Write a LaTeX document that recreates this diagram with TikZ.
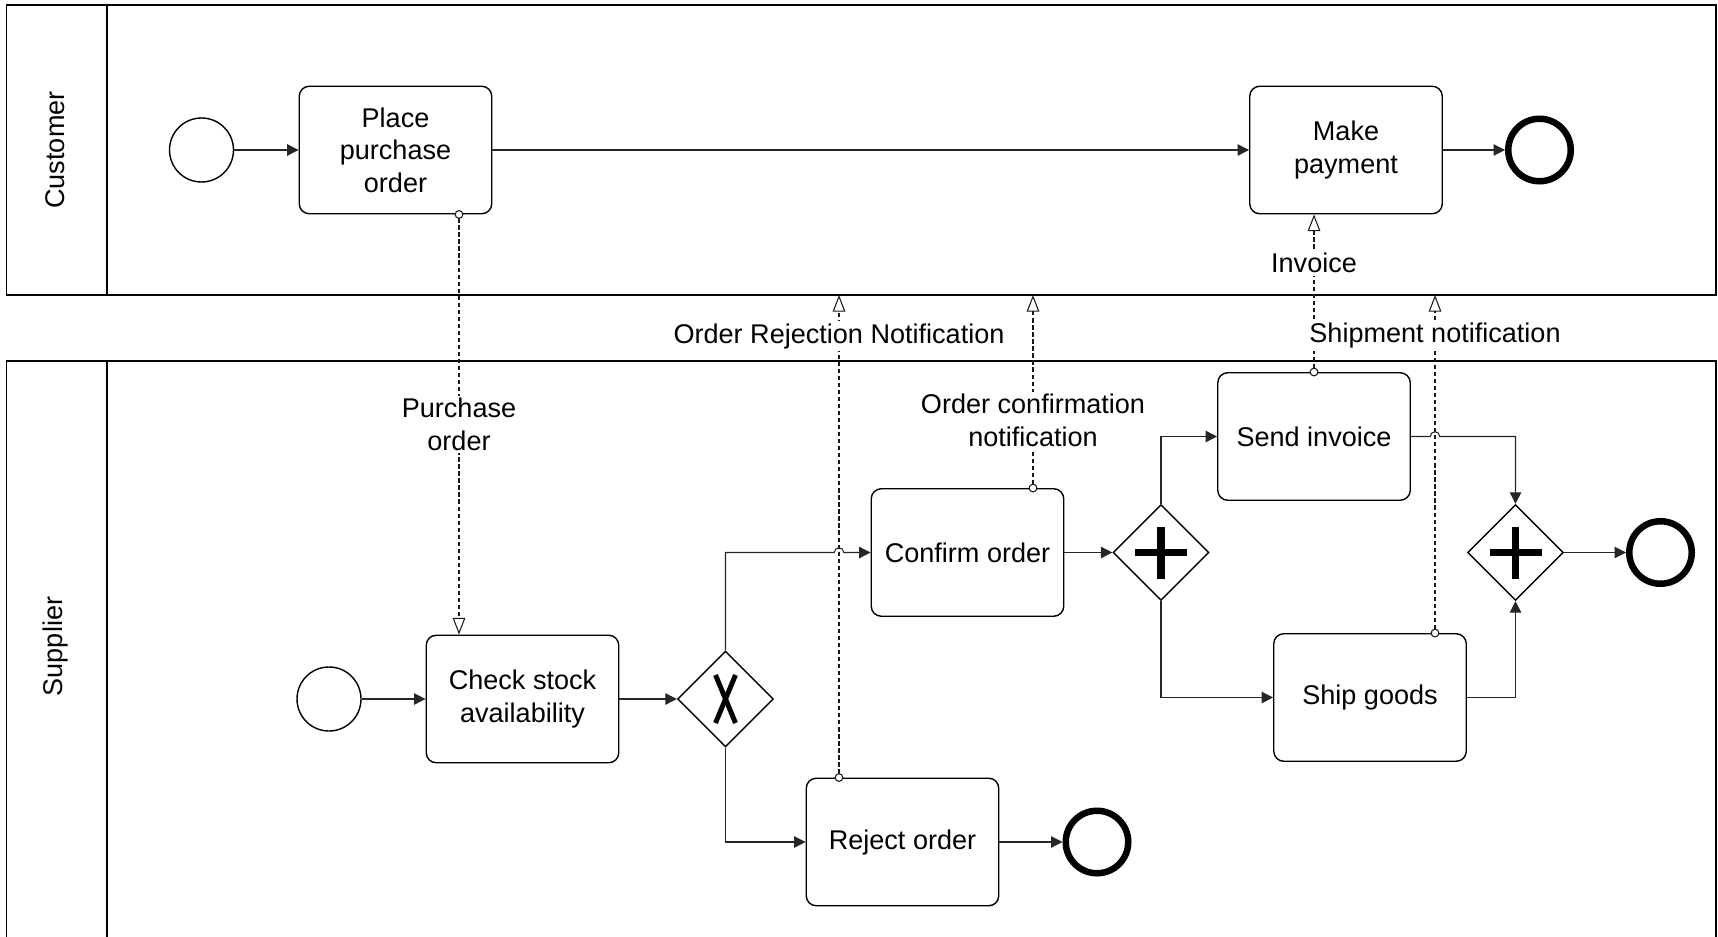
\documentclass[tikz,border=0pt]{standalone}
\usepackage{fontspec}
\setmainfont{Liberation Sans}
\usetikzlibrary{arrows.meta,shapes.geometric,calc}
\begin{document}
\begin{tikzpicture}[>={Triangle[length=6.5pt,width=6.5pt]},
  every node/.style={font=\fontsize{15.4}{18.5}\selectfont},
  pool/.style={line width=1pt},
  task/.style={draw, rounded corners=0.2cm, line width=0.8pt, minimum width=3.85cm, minimum height=2.55cm, align=center},
  startev/.style={draw, circle, line width=0.8pt, minimum size=1.28cm, inner sep=0pt},
  endev/.style={draw, circle, line width=3.7pt, minimum size=1.25cm, inner sep=0pt},
  gateway/.style={draw, diamond, line width=0.8pt, minimum size=1.92cm, inner sep=0pt},
  flow/.style={->, line width=0.6pt, black!85},
  msg/.style={{Circle[fill=white,length=5pt]}-{Triangle[open,length=9.5pt,width=7.2pt]}, shorten <=-2.5pt, line width=0.6pt, black!90, dash pattern=on 2.4pt off 1.6pt},
  msglabel/.style={fill=white, inner sep=1.5pt, align=center, text=black}]
  \useasboundingbox (0,0) rectangle (34.36,18.72);
  \draw[pool] (0.13,12.82) rectangle (34.32,18.62);
  \draw[pool] (2.14,12.82) -- (2.14,18.62);
  \draw[pool] (0.13,-0.2) -- (0.13,11.5) -- (34.32,11.5) -- (34.32,-0.2);
  \draw[pool] (2.14,11.5) -- (2.14,-0.2);
  \node[rotate=90] (customer) at (1.11,15.72) {Customer};
  \node[rotate=90] (supplier) at (1.11,5.79) {Supplier};

  \node[startev] (cstart) at (4.03,15.72) {};
  \node[task] (order) at (7.91,15.72) {Place\\purchase\\order};
  \node[task] (pay) at (26.92,15.72) {Make\\payment};
  \node[endev] (cend) at (30.79,15.72) {};

  \node[startev] (sstart) at (6.58,4.74) {};
  \node[task] (check) at (10.45,4.74) {Check stock\\availability};
  \node[gateway] (xor) at (14.51,4.74) {};
  \node[task] (confirm) at (19.35,7.67) {Confirm order};
  \node[task] (reject) at (18.05,1.88) {Reject order};
  \node[endev] (rejend) at (21.94,1.88) {};
  \node[gateway] (fork) at (23.22,7.67) {};
  \node[task] (invoice) at (26.28,9.99) {Send invoice};
  \node[task] (ship) at (27.40,4.77) {Ship goods};
  \node[gateway] (join) at (30.31,7.67) {};
  \node[endev] (finend) at (33.21,7.67) {};

  \draw[line width=2.8pt] ([shift={(-0.2,0.48)}]xor.center) -- ([shift={(0.2,-0.48)}]xor.center);
  \draw[line width=2.8pt] ([shift={(0.2,0.48)}]xor.center) -- ([shift={(-0.2,-0.48)}]xor.center);
  \draw[line width=4.5pt] ([yshift=0.52cm]fork.center) -- ([yshift=-0.52cm]fork.center);
  \draw[line width=4.5pt] ([xshift=-0.52cm]fork.center) -- ([xshift=0.52cm]fork.center);
  \draw[line width=4.5pt] ([yshift=0.52cm]join.center) -- ([yshift=-0.52cm]join.center);
  \draw[line width=4.5pt] ([xshift=-0.52cm]join.center) -- ([xshift=0.52cm]join.center);

  \coordinate (pomsg) at (9.18,12.82);
  \coordinate (rejmsg) at (16.78,12.82);
  \coordinate (confmsg) at (20.66,12.82);
  \coordinate (shipmsg) at (28.70,12.82);

  \draw[flow] (cstart) -- (order);
  \draw[flow] (order) -- (pay);
  \draw[flow] (pay) -- (cend);
  \draw[flow] (sstart) -- (check);
  \draw[flow] (check) -- (xor);
  \draw[flow] (xor.north) |- ($(rejmsg |- confirm.west)+(-2.7pt,0)$) arc[start angle=180, end angle=0, radius=2.7pt] -- (confirm.west);
  \draw[flow] (xor.south) |- (reject.west);
  \draw[flow] (reject) -- (rejend);
  \draw[flow] (confirm) -- (fork);
  \draw[flow] (fork.north) |- (invoice.west);
  \draw[flow] (fork.south) |- (ship.west);
  \draw[flow] (invoice.east) -- ($(shipmsg |- invoice.east)+(-2.7pt,0)$) arc[start angle=180, end angle=0, radius=2.7pt] -| (join.north);
  \draw[flow] (ship.east) -| (join.south);
  \draw[flow] (join) -- (finend);

  \draw[msg] (pomsg |- order.south) -- node[msglabel, pos=0.5] {Purchase\\order} (pomsg |- check.north);
  \draw[msg] (rejmsg |- reject.north) -- node[msglabel, pos=0.915] {Order Rejection Notification} (rejmsg);
  \draw[msg] (confmsg |- confirm.north) -- node[msglabel, pos=0.35] {Order confirmation\\notification} (confmsg);
  \draw[msg] (invoice.north) -- node[msglabel, pos=0.69] {Invoice} (invoice.north |- pay.south);
  \draw[msg] (shipmsg |- ship.north) -- node[msglabel, pos=0.879] {Shipment notification} (shipmsg);
\end{tikzpicture}
\end{document}
